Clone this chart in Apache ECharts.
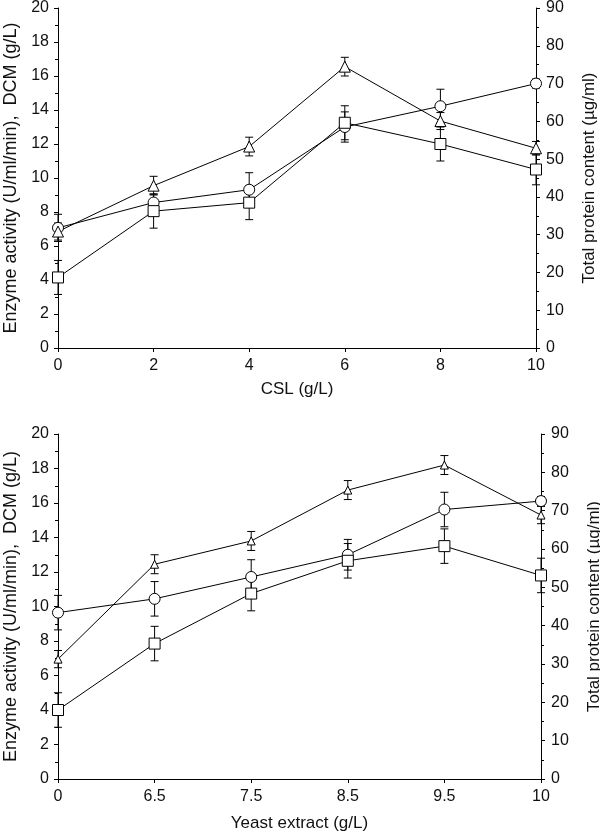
<!DOCTYPE html>
<html>
<head>
<meta charset="utf-8">
<script src="https://cdn.jsdelivr.net/npm/echarts@6/dist/echarts.min.js"></script>
<style>
  html, body { margin: 0; padding: 0; background: #fff; }
  #main { width: 600px; height: 834px; }
</style>
</head>
<body>
<div id="main"></div>
<script>
// top panel: CSL (g/L)
var cslX = [0, 2, 4, 6, 8, 10];
var cslTriangle = [6.85, 9.55, 11.85, 16.55, 13.35, 11.75];
var cslTriangleErr = [0.5, 0.55, 0.55, 0.55, 0.5, 0.4];
var cslSquare = [4.15, 8.05, 8.55, 13.25, 12.0, 10.5];
var cslSquareErr = [1.0, 1.0, 1.0, 1.0, 1.0, 0.9];
// circles are protein on the right axis (ug/ml)
var cslCircle = [31.8, 38.5, 41.9, 58.5, 64.0, 70.0];
var cslCircleErr = [3.6, 2.3, 4.5, 4.0, 4.5, 1.2];

// bottom panel: Yeast extract (g/L)
var yeastX = ['0', '6.5', '7.5', '8.5', '9.5', '10'];
var yeastTriangle = [6.95, 12.45, 13.8, 16.75, 18.2, 15.3];
var yeastTriangleErr = [0.5, 0.55, 0.55, 0.55, 0.55, 0.5];
var yeastSquare = [4.0, 7.85, 10.75, 12.65, 13.5, 11.8];
var yeastSquareErr = [1.0, 1.0, 1.0, 1.0, 1.0, 1.0];
var yeastCircle = [43.4, 47.0, 52.7, 58.5, 70.3, 72.5];
var yeastCircleErr = [4.5, 4.5, 4.5, 4.0, 4.5, 1.2];

var font = 'Liberation Sans, Arial, sans-serif';

function pairs(xs, ys) {
  return xs.map(function (x, i) { return [x, ys[i]]; });
}
function errData(xs, ys, es) {
  return xs.map(function (x, i) { return [x, ys[i] - es[i], ys[i] + es[i]]; });
}
function errRender(params, api) {
  var lo = api.coord([api.value(0), api.value(1)]);
  var hi = api.coord([api.value(0), api.value(2)]);
  var w = 4;
  var st = { stroke: '#000', lineWidth: 1 };
  return {
    type: 'group',
    children: [
      { type: 'line', shape: { x1: lo[0], y1: lo[1], x2: hi[0], y2: hi[1] }, style: st },
      { type: 'line', shape: { x1: lo[0] - w, y1: lo[1], x2: lo[0] + w, y2: lo[1] }, style: st },
      { type: 'line', shape: { x1: hi[0] - w, y1: hi[1], x2: hi[0] + w, y2: hi[1] }, style: st }
    ]
  };
}
function errSeries(xi, yi, data) {
  return {
    type: 'custom', xAxisIndex: xi, yAxisIndex: yi, z: 1,
    renderItem: errRender, data: data, silent: true
  };
}
function lineSeries(xi, yi, data, symbol, size) {
  return {
    type: 'line', xAxisIndex: xi, yAxisIndex: yi, z: 3,
    data: data, symbol: symbol, symbolSize: size,
    showAllSymbol: true,
    lineStyle: { color: '#000', width: 1 },
    itemStyle: { color: '#fff', borderColor: '#000', borderWidth: 1 },
    animation: false
  };
}

var axisLine = { show: true, lineStyle: { color: '#000', width: 1 } };
var axisTick = { show: true, inside: false, length: 4, lineStyle: { color: '#000' } };
var label = { color: '#111', fontFamily: font, fontSize: 16 };
var nameStyle = { color: '#111', fontFamily: font, fontSize: 17 };

function yLeft(gi) {
  return {
    type: 'value', gridIndex: gi, min: 0, max: 20, interval: 2, position: 'left',
    axisLine: axisLine, axisTick: axisTick, splitLine: { show: false },
    axisLabel: Object.assign({ margin: 9 }, label),
    minorTick: { show: true, splitNumber: 2, length: 3, lineStyle: { color: '#000' } },
    name: 'Enzyme activity (U/ml/min),  DCM (g/L)', nameLocation: 'middle', nameGap: 37,
    nameTextStyle: Object.assign({}, nameStyle, { fontSize: 18 })
  };
}
function yRight(gi) {
  return {
    type: 'value', gridIndex: gi, min: 0, max: 90, interval: 10, position: 'right',
    axisLine: axisLine, axisTick: axisTick, splitLine: { show: false },
    axisLabel: Object.assign({ margin: 10 }, label),
    minorTick: { show: true, splitNumber: 2, length: 3, lineStyle: { color: '#000' } },
    name: 'Total protein content (\u00b5g/ml)', nameLocation: 'middle', nameGap: 45,
    nameTextStyle: nameStyle
  };
}

var chart = echarts.init(document.getElementById('main'), null, { renderer: 'canvas' });
chart.setOption({
  backgroundColor: '#fff',
  animation: false,
  grid: [
    { left: 58, right: 64, top: 8, height: 340, outerBoundsMode: 'none', containLabel: false },
    { left: 58, right: 59, top: 434, height: 345, outerBoundsMode: 'none', containLabel: false }
  ],
  xAxis: [
    {
      type: 'value', gridIndex: 0, min: 0, max: 10, interval: 2,
      axisLine: axisLine, axisTick: axisTick, splitLine: { show: false },
      axisLabel: Object.assign({ margin: 10 }, label),
      name: 'CSL (g/L)', nameLocation: 'middle', nameGap: 33, nameTextStyle: nameStyle
    },
    {
      type: 'category', gridIndex: 1, data: yeastX, boundaryGap: false,
      axisLine: axisLine, axisTick: Object.assign({ alignWithLabel: true }, axisTick),
      splitLine: { show: false },
      axisLabel: Object.assign({ margin: 10, interval: 0 }, label),
      name: 'Yeast extract (g/L)', nameLocation: 'middle', nameGap: 36, nameTextStyle: nameStyle
    }
  ],
  yAxis: [yLeft(0), yRight(0), yLeft(1), yRight(1)],
  series: [
    errSeries(0, 0, errData(cslX, cslTriangle, cslTriangleErr)),
    errSeries(0, 0, errData(cslX, cslSquare, cslSquareErr)),
    errSeries(0, 1, errData(cslX, cslCircle, cslCircleErr)),
    lineSeries(0, 1, pairs(cslX, cslCircle), 'circle', 11),
    lineSeries(0, 0, pairs(cslX, cslSquare), 'rect', 11),
    lineSeries(0, 0, pairs(cslX, cslTriangle), 'triangle', 11),

    errSeries(1, 2, errData(yeastX, yeastTriangle, yeastTriangleErr)),
    errSeries(1, 2, errData(yeastX, yeastSquare, yeastSquareErr)),
    errSeries(1, 3, errData(yeastX, yeastCircle, yeastCircleErr)),
    lineSeries(1, 3, pairs(yeastX, yeastCircle), 'circle', 11),
    lineSeries(1, 2, pairs(yeastX, yeastSquare), 'rect', 11),
    lineSeries(1, 2, pairs(yeastX, yeastTriangle), 'triangle', 8)
  ]
});
</script>
</body>
</html>
